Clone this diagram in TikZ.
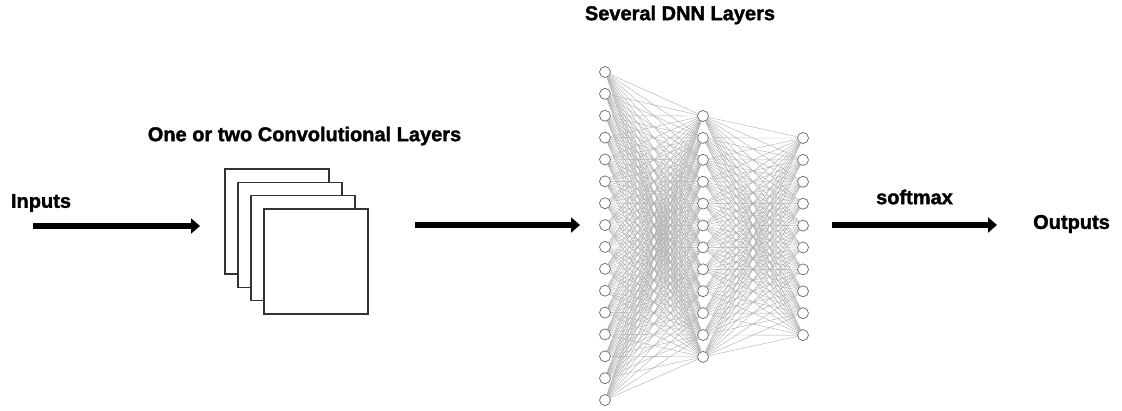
\documentclass[tikz,border=0pt]{standalone}
\usepackage{fontspec}
\setmainfont{Liberation Sans}
\newfontfamily\heavyfont[FakeBold=1.6]{Liberation Sans Bold}
\usetikzlibrary{arrows.meta}
\tikzset{
  neuron/.style={circle, draw=black!60, fill=white, line width=0.7pt,
                 minimum size=11pt, inner sep=0pt},
  synapse/.style={draw=black!32, line width=0.4pt},
  flow/.style={line width=6.5pt, -{Triangle[length=9pt,width=15pt]}},
  heading/.style={font=\heavyfont\fontsize{20}{24}\selectfont, inner sep=0pt},
  fmap/.style={draw=black!80, fill=white, line width=1.4pt,
               minimum width=104pt, minimum height=105pt, inner sep=0pt},
}
\begin{document}
\begin{tikzpicture}[x=1pt,y=-1pt]
  \useasboundingbox (0,0) rectangle (1122,410);

  % headings
  \node[heading] (tin)   at (41,203)    {Inputs};
  \node[heading] (tconv) at (304.5,136) {One or two Convolutional Layers};
  \node[heading] (tdnn)  at (680,15)    {Several DNN Layers};
  \node[heading] (tsm)   at (914.5,197) {softmax};
  \node[heading] (tout)  at (1071.5,224){Outputs};

  % stacked feature maps
  \foreach \k in {0,...,3}
    \node[fmap] (f\k) at ({277+13*\k},{221.5+13.3*\k}) {};

  % fully connected layers
  \foreach \i in {1,...,16}
    \node[neuron] (a\i) at (605,{72+(\i-1)*21.87}) {};
  \foreach \j in {1,...,12}
    \node[neuron] (b\j) at (703,{116+(\j-1)*21.9}) {};
  \foreach \k in {1,...,10}
    \node[neuron] (c\k) at (803,{138+(\k-1)*21.9}) {};

  \foreach \i in {1,...,16}
    \foreach \j in {1,...,12}
      \draw[synapse] (a\i) -- (b\j);
  \foreach \j in {1,...,12}
    \foreach \k in {1,...,10}
      \draw[synapse] (b\j) -- (c\k);

  % data flow arrows
  \coordinate (p0) at (33,226);
  \coordinate (p1) at (200,226);
  \coordinate (q0) at (415,225);
  \coordinate (q1) at (580,225);
  \coordinate (r0) at (832,225);
  \coordinate (r1) at (997,225);
  \draw[flow] (p0) -- (p1);
  \draw[flow] (q0) -- (q1);
  \draw[flow] (r0) -- (r1);
\end{tikzpicture}
\end{document}
